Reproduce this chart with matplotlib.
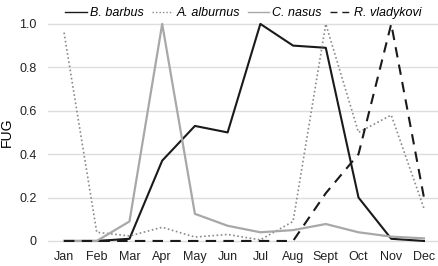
import numpy as np
import matplotlib.pyplot as plt

plt.rcParams['font.family'] = ['Liberation Sans', 'DejaVu Sans']

months = ['Jan', 'Feb', 'Mar', 'Apr', 'May', 'Jun', 'Jul', 'Aug', 'Sept', 'Oct', 'Nov', 'Dec']
barbus = [0.0, 0.0, 0.01, 0.37, 0.53, 0.50, 1.0, 0.90, 0.89, 0.20, 0.01, 0.0]
alburnus = [0.96, 0.04, 0.023, 0.063, 0.018, 0.03, 0.005, 0.09, 1.0, 0.50, 0.58, 0.15]
nasus = [0.0, 0.0, 0.09, 1.0, 0.125, 0.07, 0.04, 0.05, 0.078, 0.04, 0.02, 0.012]
vladykovi = [0.0, 0.0, 0.0, 0.0, 0.0, 0.0, 0.0, 0.0, 0.22, 0.40, 1.0, 0.2]

x = np.arange(len(months))

fig = plt.figure(figsize=(4.39, 2.66), dpi=100)
ax = fig.add_axes([48 / 439, 1 - 244 / 266, 391 / 439, 224 / 266])

ax.plot(x, barbus, color='#1a1a1a', lw=1.5, label='B. barbus')
ax.plot(x, alburnus, color='#8a8a8a', lw=1.2, ls=(0, (1, 1.5)), label='A. alburnus')
ax.plot(x, nasus, color='#a8a8a8', lw=1.6, label='C. nasus')
ax.plot(x, vladykovi, color='#1a1a1a', lw=1.5, ls=(0, (5, 3.5)), label='R. vladykovi')

ax.set_xlim(-0.49, 11.46)
ax.set_ylim(-0.014, 1.018)
ax.set_yticks([0, 0.2, 0.4, 0.6, 0.8, 1.0])
ax.set_yticklabels(['0', '0.2', '0.4', '0.6', '0.8', '1.0'])
ax.set_xticks(x)
ax.set_xticklabels(months)
ax.grid(axis='y', color='#dddddd', lw=1)
ax.set_axisbelow(True)
for s in ax.spines.values():
    s.set_visible(False)
ax.tick_params(axis='x', length=0, labelsize=9, pad=5, colors='#222222')
ax.tick_params(axis='y', length=0, labelsize=9, pad=8, colors='#222222')
ax.set_ylabel('FUG', fontsize=10, labelpad=4)

leg = fig.legend(loc='upper left', bbox_to_anchor=(54 / 439, 1.015), ncol=4, frameon=False,
                 prop={'style': 'italic', 'size': 9}, handlelength=1.7, columnspacing=0.6,
                 handletextpad=0.3)
for h in leg.get_lines():
    h.set_linewidth(1.0)

fig.savefig('out.png', dpi=100)
